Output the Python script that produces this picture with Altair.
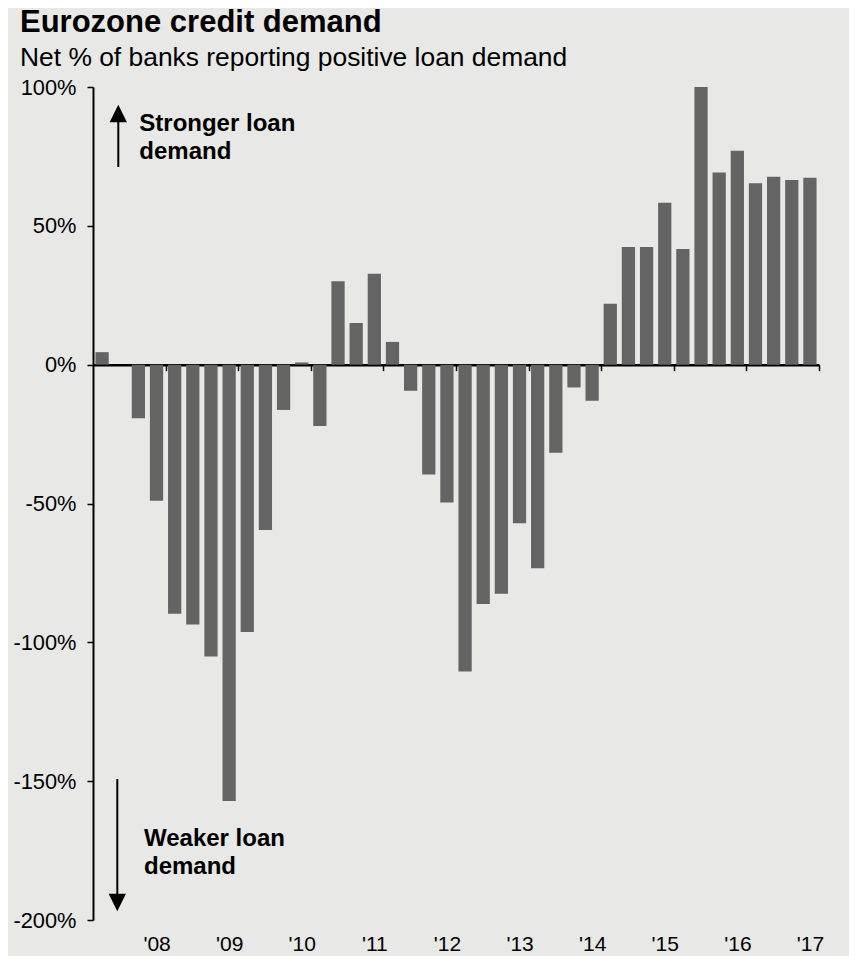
import json
import altair as alt
import pandas as pd

# ---- data ----
quarters = [
    "2Q07", "3Q07", "4Q07",
    "1Q08", "2Q08", "3Q08", "4Q08",
    "1Q09", "2Q09", "3Q09", "4Q09",
    "1Q10", "2Q10", "3Q10", "4Q10",
    "1Q11", "2Q11", "3Q11", "4Q11",
    "1Q12", "2Q12", "3Q12", "4Q12",
    "1Q13", "2Q13", "3Q13", "4Q13",
    "1Q14", "2Q14", "3Q14", "4Q14",
    "1Q15", "2Q15", "3Q15", "4Q15",
    "1Q16", "2Q16", "3Q16", "4Q16",
    "1Q17",
]
values = [
    4.5, 0.0, -19.3,
    -49.0, -89.7, -93.6, -105.1,
    -157.1, -96.3, -59.5, -16.3,
    0.8, -22.1, 30.0, 15.0,
    32.7, 8.2, -9.4, -39.6,
    -49.6, -110.5, -86.2, -82.5,
    -57.1, -73.3, -31.7, -8.2,
    -13.0, 21.9, 42.4, 42.4,
    58.3, 41.7, 100.0, 69.2,
    77.0, 65.3, 67.7, 66.5,
    67.3,
]
year_labels = ["'08", "'09", "'10", "'11", "'12", "'13", "'14", "'15", "'16", "'17"]
y_ticks = [-200, -150, -100, -50, 0, 50, 100]

title_text = "Eurozone credit demand"
subtitle_text = "Net % of banks reporting positive loan demand"
up_text = ["Stronger loan", "demand"]
down_text = ["Weaker loan", "demand"]

# ---- layout ----
W, H = 726, 833
Y_MIN, Y_MAX = y_ticks[0], y_ticks[-1]
FONT = "Liberation Sans"
BAR_COLOR = "#646464"
BG = "#e8e8e6"

df = pd.DataFrame({"quarter": quarters, "idx": list(range(len(quarters))), "v": values})

# year boundary ticks sit just after each first quarter
tick_pos = [i + 0.5 for i, q in enumerate(quarters) if q.startswith("1Q")]
label_expr = "{}[indexof({}, datum.value)]".format(json.dumps(year_labels), json.dumps(tick_pos))

zero_offset = -H * (0 - Y_MIN) / (Y_MAX - Y_MIN)

x_scale = alt.Scale(domain=[-0.5, len(quarters) - 0.5], nice=False, zero=False)
y_scale = alt.Scale(domain=[Y_MIN, Y_MAX], nice=False)

bars = alt.Chart(df).transform_calculate(
    x0="datum.idx - 0.365", x1="datum.idx + 0.365"
).mark_rect(color=BAR_COLOR).encode(
    x=alt.X("x0:Q", scale=x_scale, axis=alt.Axis(
        values=tick_pos, labelExpr=label_expr, orient="bottom", offset=zero_offset,
        domainColor="black", domainWidth=2.5, tickColor="black", tickWidth=1.5, tickSize=6,
        labelPadding=563, labelOffset=-9, labelFontSize=21, labelFont=FONT, labelColor="black",
        labelFlush=False, labelOverlap=False, title=None, grid=False)),
    x2="x1:Q",
    y=alt.Y("v:Q", scale=y_scale, axis=alt.Axis(
        values=y_ticks, labelExpr="datum.value + '%'", domainColor="black", domainWidth=2,
        tickColor="black", tickWidth=1.5, tickSize=6, labelPadding=11, labelFontSize=21.8,
        labelFont=FONT, labelColor="black", title=None, grid=False)),
    y2=alt.datum(0),
    tooltip=["quarter:N", "v:Q"],
)

one = alt.Data(values=[{}])

up_shaft = alt.Chart(one).mark_rule(color="black", strokeWidth=2).encode(
    x=alt.value(25.3), y=alt.value(33), y2=alt.value(80))
up_head = alt.Chart(one).mark_point(shape="M0,-1L-1,1L1,1Z", filled=True, color="black",
                                    opacity=1, size=300).encode(
    x=alt.value(25.3), y=alt.value(26.5))
down_shaft = alt.Chart(one).mark_rule(color="black", strokeWidth=2).encode(
    x=alt.value(24.3), y=alt.value(692), y2=alt.value(809))
down_head = alt.Chart(one).mark_point(shape="M0,1L-1,-1L1,-1Z", filled=True, color="black",
                                      opacity=1, size=300).encode(
    x=alt.value(24.3), y=alt.value(815.5))

up_label = alt.Chart(one).mark_text(align="left", baseline="alphabetic", fontSize=24,
                                    fontWeight="bold", lineHeight=28, font=FONT,
                                    color="black").encode(
    x=alt.value(46.3), y=alt.value(43.7), text=alt.value(up_text))
down_label = alt.Chart(one).mark_text(align="left", baseline="alphabetic", fontSize=24,
                                      fontWeight="bold", lineHeight=28, font=FONT,
                                      color="black").encode(
    x=alt.value(51), y=alt.value(759), text=alt.value(down_text))

title = alt.Chart(one).mark_text(align="left", baseline="alphabetic", fontSize=31,
                                 fontWeight="bold", font=FONT, color="black").encode(
    x=alt.value(-73), y=alt.value(-55), text=alt.value(title_text))
subtitle = alt.Chart(one).mark_text(align="left", baseline="alphabetic", fontSize=26.4,
                                    font=FONT, color="black").encode(
    x=alt.value(-73), y=alt.value(-21), text=alt.value(subtitle_text))

chart = alt.layer(
    bars, up_shaft, up_head, down_shaft, down_head, up_label, down_label, title, subtitle
).properties(
    width=W, height=H,
    autosize=alt.AutoSizeParams(type="none"),
    padding={"left": 85, "top": 79, "right": 30, "bottom": 40},
    background=BG,
).configure_view(stroke=None)

chart.save("out.html", embed_options={"renderer": "svg", "actions": False})
